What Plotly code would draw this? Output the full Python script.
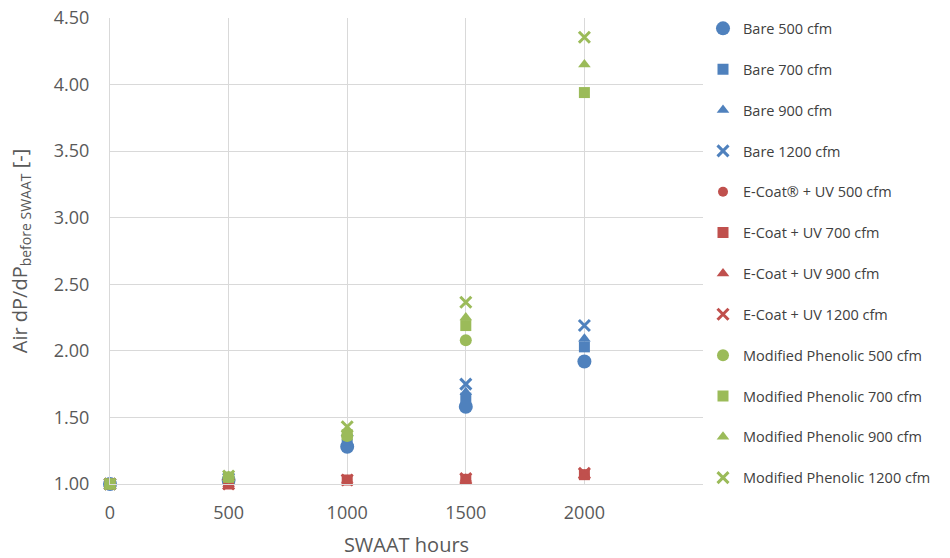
import plotly.graph_objects as go

# SWAAT exposure hours
hours = [0, 500, 1000, 1500, 2000]

# Normalised air-side pressure drop (dP / dP before SWAAT)
bare_500 = [1.00, 1.03, 1.28, 1.58, 1.92]
bare_700 = [1.00, 1.03, 1.30, 1.645, 2.03]
bare_900 = [1.00, 1.03, 1.31, 1.69, 2.09]
bare_1200 = [1.00, 1.04, 1.33, 1.75, 2.19]

ecoat_500 = [1.00, 1.00, 1.03, 1.035, 1.07]
ecoat_700 = [1.00, 1.00, 1.03, 1.035, 1.07]
ecoat_900 = [1.00, 1.00, 1.03, 1.04, 1.07]
ecoat_1200 = [1.00, 1.00, 1.03, 1.04, 1.08]

phen_500 = [1.00, 1.05, 1.36, 2.08, None]
phen_700 = [1.00, 1.05, 1.37, 2.19, 3.94]
phen_900 = [1.00, 1.06, 1.38, 2.25, 4.15]
phen_1200 = [1.00, 1.06, 1.43, 2.365, 4.355]

series_names = [
    "Bare 500 cfm", "Bare 700 cfm", "Bare 900 cfm", "Bare 1200 cfm",
    "E-Coat® + UV 500 cfm", "E-Coat + UV 700 cfm", "E-Coat + UV 900 cfm", "E-Coat + UV 1200 cfm",
    "Modified Phenolic 500 cfm", "Modified Phenolic 700 cfm",
    "Modified Phenolic 900 cfm", "Modified Phenolic 1200 cfm",
]
series_values = [
    bare_500, bare_700, bare_900, bare_1200,
    ecoat_500, ecoat_700, ecoat_900, ecoat_1200,
    phen_500, phen_700, phen_900, phen_1200,
]

x_ticks = [0, 500, 1000, 1500, 2000, 2500]
x_tick_text = ["0", "500", "1000", "1500", "2000", ""]
y_ticks = [1.0, 1.5, 2.0, 2.5, 3.0, 3.5, 4.0, 4.5]
y_tick_text = ["1.00", "1.50", "2.00", "2.50", "3.00", "3.50", "4.00", "4.50"]

colors = ["#4F81BD", "#C0504D", "#9BBB59"]
symbols = ["circle", "square", "triangle-up", "x-thin-open"]
# marker sizes per group (blue, red, green) and per symbol
sizes = [[14, 11, 11, 11], [10, 11, 11, 11], [12, 11, 11, 11]]

FONT = "Open Sans, Liberation Sans, Arial, sans-serif"

fig = go.Figure()
for i, (name, vals) in enumerate(zip(series_names, series_values)):
    g = i // 4
    col = colors[g]
    k = i % 4
    marker = dict(symbol=symbols[k], size=sizes[g][k], color=col,
                  line=dict(width=3 if k == 3 else 0, color=col))
    fig.add_trace(go.Scatter(
        x=hours, y=vals, mode="markers", name=name,
        marker=marker, legendgroup=name, cliponaxis=False,
    ))

fig.update_layout(
    width=950, height=558,
    margin=dict(l=110, r=247, t=18, b=74, autoexpand=False),
    paper_bgcolor="white", plot_bgcolor="white",
    font=dict(family=FONT, color="#595959"),
    showlegend=True,
    legend=dict(
        x=1.0, y=1.012, xanchor="left", yanchor="top",
        font=dict(family=FONT, size=14.5, color="#404040"),
        tracegroupgap=19, itemwidth=30, maxheight=558,
        bgcolor="rgba(0,0,0,0)",
    ),
    xaxis=dict(
        range=[0, 2500], tickvals=x_ticks, ticktext=x_tick_text,
        showgrid=True, gridcolor="#D9D9D9", gridwidth=1,
        zeroline=False, showline=True, linecolor="#D9D9D9",
        ticks="", ticklabelstandoff=12,
        tickfont=dict(family=FONT, size=18, color="#595959"),
        title=dict(text="SWAAT hours", font=dict(family=FONT, size=20, color="#595959"), standoff=20),
    ),
    yaxis=dict(
        range=[1.0, 4.5], tickvals=y_ticks, ticktext=y_tick_text,
        showgrid=True, gridcolor="#D9D9D9", gridwidth=1,
        zeroline=False, showline=True, linecolor="#D9D9D9",
        ticks="", ticklabelstandoff=16,
        tickfont=dict(family=FONT, size=18, color="#595959"),
        title=dict(text="Air dP/dP<sub>before SWAAT</sub> [-]",
                   font=dict(family=FONT, size=20, color="#595959"), standoff=20),
    ),
)

fig.write_html("out.html")
